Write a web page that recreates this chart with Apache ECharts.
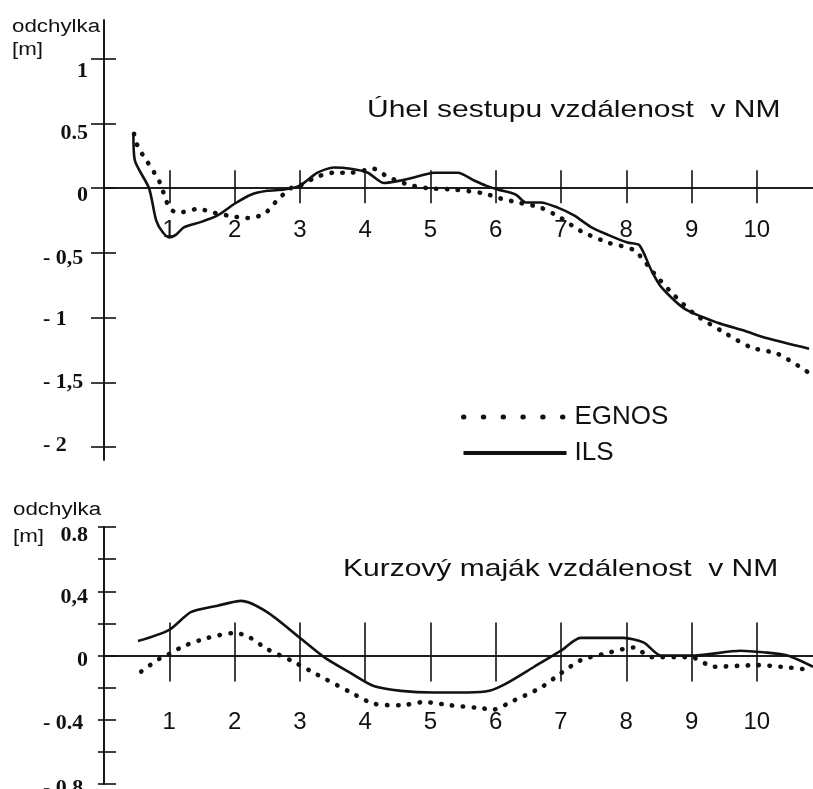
<!DOCTYPE html>
<html>
<head>
<meta charset="utf-8">
<script src="https://cdn.jsdelivr.net/npm/echarts@6/dist/echarts.min.js"></script>
<style>
html,body{margin:0;padding:0;background:#fff;}
#c{width:813px;height:789px;}
</style>
</head>
<body>
<div id="c"></div>
<script>
// ---- data (distance in NM, deviation in m) ----
const xTicks = [1, 2, 3, 4, 5, 6, 7, 8, 9, 10];

const topYTicks = [-2, -1.5, -1, -0.5, 0, 0.5, 1];
const topYLabels = ['- 2', '- 1,5', '- 1', '- 0,5', '0', '0.5', '1'];

const botYTicks = [-0.8, -0.6, -0.4, -0.2, 0, 0.2, 0.4, 0.6, 0.8];
const botYLabelValues = [-0.8, -0.4, 0, 0.4, 0.8];
const botYLabels = ['- 0.8', '- 0.4', '0', '0,4', '0.8'];

const glideILS = [
  [0.45,0.43],[0.47,0.22],[0.69,0.0],[0.8,-0.25],[0.9,-0.34],[1.0,-0.38],[1.1,-0.36],
  [1.23,-0.30],[1.49,-0.26],[1.74,-0.21],[2.0,-0.12],[2.25,-0.05],[2.5,-0.02],[2.76,-0.01],
  [3.0,0.02],[3.27,0.12],[3.52,0.16],[3.78,0.15],[4.04,0.12],[4.29,0.04],[4.55,0.06],
  [4.8,0.09],[5.05,0.12],[5.42,0.12],[5.67,0.06],[5.85,0.02],[6.03,-0.01],[6.31,-0.05],
  [6.46,-0.11],[6.69,-0.11],[6.95,-0.15],[7.2,-0.21],[7.46,-0.30],[7.72,-0.36],[8.02,-0.42],
  [8.2,-0.44],[8.38,-0.63],[8.53,-0.76],[8.89,-0.93],[9.4,-1.04],[9.8,-1.10],[10.16,-1.16],[10.8,-1.24]
];
const glideEGNOS = [
  [0.46,0.42],[0.52,0.32],[0.67,0.2],[0.85,0.05],[1.0,-0.15],[1.13,-0.19],[1.44,-0.16],
  [1.69,-0.19],[2.0,-0.22],[2.2,-0.23],[2.45,-0.2],[2.66,-0.09],[2.86,0],[3.0,0.02],
  [3.27,0.09],[3.52,0.12],[3.78,0.12],[4.13,0.15],[4.34,0.09],[4.65,0.03],[4.96,0],
  [5.36,-0.01],[5.82,-0.04],[6.08,-0.08],[6.34,-0.11],[6.69,-0.15],[7.0,-0.23],[7.3,-0.33],
  [7.72,-0.42],[8.12,-0.48],[8.43,-0.66],[8.68,-0.80],[9.04,-0.97],[9.45,-1.10],[9.91,-1.23],
  [10.32,-1.28],[10.78,-1.42]
];
const courseILS = [
  [0.52,0.09],[1.0,0.16],[1.33,0.27],[1.74,0.31],[2.1,0.34],[2.5,0.27],[3.0,0.11],
  [3.37,-0.01],[3.78,-0.11],[4.13,-0.19],[4.55,-0.22],[5.05,-0.23],[5.57,-0.23],[5.9,-0.22],
  [6.18,-0.17],[6.59,-0.07],[7.0,0.03],[7.3,0.11],[7.96,0.11],[8.27,0.08],[8.53,0.0],
  [9.04,0],[9.75,0.03],[10.1,0.02],[10.47,0],[10.86,-0.07]
];
const courseEGNOS = [
  [0.57,-0.1],[0.85,-0.02],[1.0,0.01],[1.23,0.06],[1.59,0.11],[2.0,0.14],[2.2,0.12],
  [2.5,0.04],[2.86,-0.03],[3.27,-0.12],[3.78,-0.23],[4.13,-0.30],[4.55,-0.31],[4.9,-0.29],
  [5.31,-0.31],[5.82,-0.33],[5.93,-0.34],[6.28,-0.28],[6.69,-0.20],[7.0,-0.11],[7.3,-0.03],
  [7.66,0.01],[8.12,0.05],[8.38,-0.01],[8.99,-0.01],[9.34,-0.07],[10.0,-0.06],[10.37,-0.07],[10.83,-0.09]
];

// ---- styling ----
const SANS = 'Liberation Sans, Arial, sans-serif';
const SERIF = 'Liberation Serif, Times New Roman, serif';
const INK = '#111';
const X_MIN = 0, X_MAX = 10.86;
const TOP_MIN = -2.1, TOP_MAX = 1.3;
const BOT_MIN = -0.8, BOT_MAX = 0.8;
const topLabelShift = [-2, 0, 2, 5, 7, 10, 12];
const botLabelShift = [4, 4, 5, 6, 8];

function makeRich(values, shifts) {
  const rich = {};
  values.forEach((v, i) => {
    const s = shifts[i];
    rich['t' + i] = {
      width: 45,
      align: v < 0 ? 'left' : 'right',
      padding: s >= 0 ? [2 * s, 0, 0, 0] : [0, 0, -2 * s, 0],
      fontFamily: SERIF, fontWeight: 'bold', fontSize: 22, color: INK
    };
  });
  return rich;
}
function makeFormatter(values, labels) {
  return function (v) {
    for (let i = 0; i < values.length; i++) {
      if (Math.abs(values[i] - v) < 1e-6) return '{t' + i + '|' + labels[i] + '}';
    }
    return '';
  };
}

const lineOn = { show: true, onZero: false, lineStyle: { color: INK, width: 1.6 } };
const tickLine = { color: INK, width: 1.6 };
const hiddenX = (g) => ({ type: 'value', gridIndex: g, show: false, min: X_MIN, max: X_MAX, axisLine: { onZero: false }, splitLine: { show: false } });
const hiddenY = (g) => ({ type: 'value', gridIndex: g, show: false, min: 0, max: 1, axisLine: { onZero: false }, splitLine: { show: false } });

// grid geometry
const topGrid = { left: 104, top: 20, width: 709, height: 440 };
const botGrid = { left: 104, top: 527, width: 709, height: 257 };
const topZero = topGrid.height * TOP_MAX / (TOP_MAX - TOP_MIN);
const botZero = botGrid.height * BOT_MAX / (BOT_MAX - BOT_MIN);
const G = (o) => Object.assign({ containLabel: false, outerBoundsMode: 'none' }, o);

const dotted = { color: INK, width: 4.6, type: [0.4, 10.5], cap: 'round' };
const solid = { color: INK, width: 2.6, type: 'solid' };

const option = {
  animation: false,
  backgroundColor: '#fff',
  grid: [
    G(topGrid),
    G({ left: topGrid.left, top: topGrid.top, width: topGrid.width, height: topZero }),
    G(botGrid),
    G({ left: botGrid.left, top: botGrid.top, width: botGrid.width, height: botZero })
  ],
  xAxis: [
    hiddenX(0),
    { type: 'value', gridIndex: 1, position: 'bottom', min: X_MIN, max: X_MAX, axisLine: lineOn,
      axisTick: { show: true, customValues: xTicks, length: 15, lineStyle: tickLine },
      axisLabel: { show: true, customValues: xTicks, margin: 30, fontFamily: SANS, fontSize: 24, color: INK },
      splitLine: { show: false } },
    { type: 'value', gridIndex: 1, position: 'bottom', min: X_MIN, max: X_MAX, axisLine: lineOn,
      axisTick: { show: true, inside: true, customValues: xTicks, length: 18, lineStyle: tickLine },
      axisLabel: { show: false }, splitLine: { show: false } },
    hiddenX(2),
    { type: 'value', gridIndex: 3, position: 'bottom', min: X_MIN, max: X_MAX, axisLine: lineOn,
      axisTick: { show: true, customValues: xTicks, length: 26, lineStyle: tickLine },
      axisLabel: { show: true, customValues: xTicks, margin: 55, fontFamily: SANS, fontSize: 24, color: INK },
      splitLine: { show: false } },
    { type: 'value', gridIndex: 3, position: 'bottom', min: X_MIN, max: X_MAX, axisLine: lineOn,
      axisTick: { show: true, inside: true, customValues: xTicks, length: 33, lineStyle: tickLine },
      axisLabel: { show: false }, splitLine: { show: false } }
  ],
  yAxis: [
    { type: 'value', gridIndex: 0, position: 'left', min: TOP_MIN, max: TOP_MAX, axisLine: lineOn,
      axisTick: { show: true, customValues: topYTicks, length: 13, lineStyle: tickLine },
      axisLabel: { show: true, customValues: topYTicks, margin: 16,
        formatter: makeFormatter(topYTicks, topYLabels), rich: makeRich(topYTicks, topLabelShift) },
      splitLine: { show: false } },
    { type: 'value', gridIndex: 0, position: 'left', min: TOP_MIN, max: TOP_MAX, axisLine: lineOn,
      axisTick: { show: true, inside: true, customValues: topYTicks, length: 12, lineStyle: tickLine },
      axisLabel: { show: false }, splitLine: { show: false } },
    hiddenY(1),
    { type: 'value', gridIndex: 2, position: 'left', min: BOT_MIN, max: BOT_MAX, axisLine: lineOn,
      axisTick: { show: true, customValues: botYTicks, length: 6, lineStyle: tickLine },
      axisLabel: { show: true, customValues: botYLabelValues, margin: 16,
        formatter: makeFormatter(botYLabelValues, botYLabels), rich: makeRich(botYLabelValues, botLabelShift) },
      splitLine: { show: false } },
    { type: 'value', gridIndex: 2, position: 'left', min: BOT_MIN, max: BOT_MAX, axisLine: lineOn,
      axisTick: { show: true, inside: true, customValues: botYTicks, length: 12, lineStyle: tickLine },
      axisLabel: { show: false }, splitLine: { show: false } },
    hiddenY(3)
  ],
  legend: {
    data: [
      { name: 'EGNOS', lineStyle: { width: 5, type: [0.4, 19.4], cap: 'round' } },
      { name: 'ILS', lineStyle: { width: 4.2 } }
    ],
    orient: 'vertical', left: 456, top: 399,
    itemWidth: 103, itemHeight: 14, itemGap: 10,
    itemStyle: { opacity: 0 },
    textStyle: { fontFamily: SANS, fontSize: 26, color: INK, lineHeight: 26, padding: [0, 0, 0, 3] }
  },
  graphic: [
    { type: 'text', x: 12, y: 27, scaleX: 1.24, style: { text: 'odchylka', font: '18px ' + SANS, fill: INK, verticalAlign: 'middle' } },
    { type: 'text', x: 12, y: 50, scaleX: 1.24, style: { text: '[m]', font: '18px ' + SANS, fill: INK, verticalAlign: 'middle' } },
    { type: 'text', x: 13, y: 510, scaleX: 1.24, style: { text: 'odchylka', font: '18px ' + SANS, fill: INK, verticalAlign: 'middle' } },
    { type: 'text', x: 13, y: 537, scaleX: 1.24, style: { text: '[m]', font: '18px ' + SANS, fill: INK, verticalAlign: 'middle' } },
    { type: 'text', x: 367, y: 110, scaleX: 1.25, style: { text: 'Úhel sestupu vzdálenost  v NM', font: '24px ' + SANS, fill: INK, verticalAlign: 'middle' } },
    { type: 'text', x: 343, y: 569, scaleX: 1.25, style: { text: 'Kurzový maják vzdálenost  v NM', font: '24px ' + SANS, fill: INK, verticalAlign: 'middle' } }
  ],
  series: [
    { name: 'EGNOS', type: 'line', xAxisIndex: 0, yAxisIndex: 0, data: glideEGNOS, smooth: 0.25, symbol: 'none',
      lineStyle: dotted, itemStyle: { color: INK } },
    { name: 'ILS', type: 'line', xAxisIndex: 0, yAxisIndex: 0, data: glideILS, smooth: 0.25, symbol: 'none',
      lineStyle: solid, itemStyle: { color: INK } },
    { name: 'EGNOS', type: 'line', xAxisIndex: 3, yAxisIndex: 3, data: courseEGNOS, smooth: 0.25, symbol: 'none',
      lineStyle: dotted, itemStyle: { color: INK } },
    { name: 'ILS', type: 'line', xAxisIndex: 3, yAxisIndex: 3, data: courseILS, smooth: 0.25, symbol: 'none',
      lineStyle: solid, itemStyle: { color: INK } }
  ]
};

const chart = echarts.init(document.getElementById('c'), null, { renderer: 'canvas' });
chart.setOption(option);
</script>
</body>
</html>
